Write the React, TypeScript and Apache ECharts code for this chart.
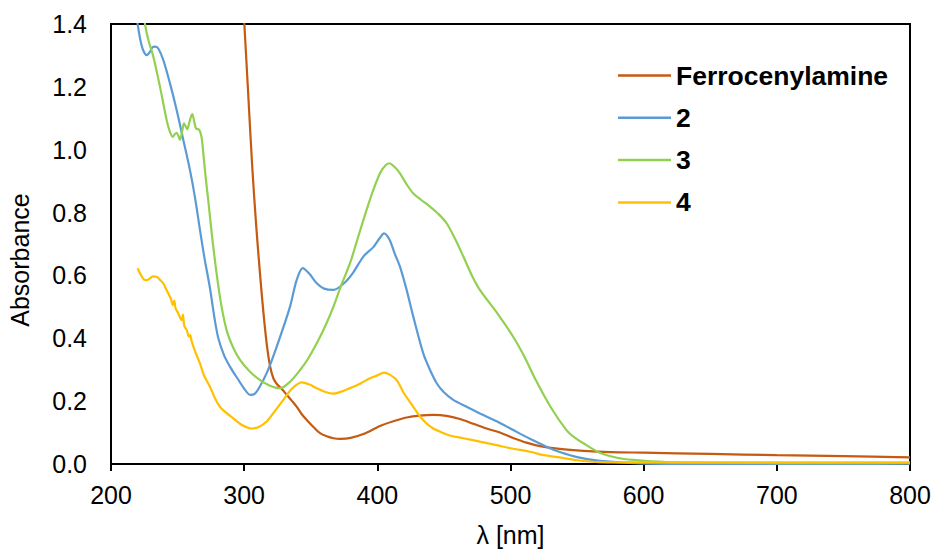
import React, { useEffect, useRef } from "react";
import * as echarts from "echarts";

const seriesNames = ["Ferrocenylamine", "2", "3", "4"];
const seriesColors = ["#C55A11", "#5B9BD5", "#92D050", "#FFC000"];
const xTicks = [200, 300, 400, 500, 600, 700, 800];
const yTicks = [0, 0.2, 0.4, 0.6, 0.8, 1.0, 1.2, 1.4];

const ferrocenylamine: [number, number][] = [
  [297, 1.63], [300, 1.41], [303, 1.18], [306, 0.95], [309, 0.76], [312, 0.6], [314.5, 0.48],
  [317, 0.38], [319.5, 0.31], [322, 0.272], [325, 0.252], [328, 0.24], [332, 0.22], [336, 0.2],
  [339.5, 0.182], [343, 0.16], [347, 0.14], [352, 0.118], [357, 0.098], [362, 0.088], [367, 0.082],
  [372, 0.08], [380, 0.083], [390, 0.096], [402, 0.121], [412, 0.136], [422, 0.148], [432, 0.154],
  [442, 0.156], [452, 0.153], [462, 0.143], [472, 0.128], [482, 0.113], [492, 0.1], [502, 0.083],
  [512, 0.068], [522, 0.057], [537, 0.048], [555, 0.042], [575, 0.038], [600, 0.036], [650, 0.032],
  [700, 0.028], [750, 0.025], [800, 0.021],
];

const compound2: [number, number][] = [
  [219, 1.43], [220, 1.4], [222, 1.35], [224, 1.318], [226.8, 1.301], [229, 1.31], [231, 1.325],
  [233, 1.328], [235.5, 1.322], [239.3, 1.285], [244.3, 1.211], [249.3, 1.126], [254.3, 1.031],
  [259.3, 0.935], [263, 0.85], [266.8, 0.745], [270, 0.66], [274.3, 0.56], [277.5, 0.47],
  [280.6, 0.4], [285, 0.345], [290, 0.305], [295, 0.272], [300, 0.24], [304.4, 0.22],
  [307.5, 0.222], [310.6, 0.238], [316.9, 0.289], [324.4, 0.373], [334.4, 0.5], [339.4, 0.585],
  [344, 0.623], [349, 0.605], [354.5, 0.575], [360, 0.558], [367, 0.554], [375, 0.575], [382, 0.61],
  [389.5, 0.66], [397, 0.69], [402, 0.72], [405, 0.734], [409, 0.715], [413, 0.67], [417, 0.628],
  [422, 0.554], [427, 0.469], [434.5, 0.352], [439.5, 0.3], [444.6, 0.257], [450, 0.228],
  [457, 0.204], [467, 0.182], [477, 0.161], [489.6, 0.136], [502, 0.108], [514.6, 0.08],
  [527, 0.055], [537, 0.038], [550, 0.022], [567, 0.01], [597, 0.002], [650, 0.0], [700, -0.002],
  [800, -0.004],
];

const compound3: [number, number][] = [
  [220, 1.56], [223, 1.47], [225.5, 1.4], [228, 1.35], [231.8, 1.296], [236.8, 1.2], [241.8, 1.094],
  [244, 1.06], [246.3, 1.041], [248, 1.05], [249.3, 1.054], [250.5, 1.045], [251.8, 1.031],
  [253.5, 1.06], [254.8, 1.084], [256, 1.075], [257.3, 1.065], [259, 1.09], [261, 1.113],
  [262.5, 1.09], [263.8, 1.068], [266.3, 1.063], [268, 1.04], [269.3, 0.989], [271.3, 0.904],
  [273, 0.84], [276.8, 0.691], [281.8, 0.532], [286.8, 0.426], [291.8, 0.37], [296.9, 0.331],
  [304, 0.295], [311.9, 0.267], [319, 0.25], [326.9, 0.241], [334, 0.26], [342, 0.299], [348, 0.335],
  [354.5, 0.384], [361, 0.44], [367, 0.5], [373, 0.57], [379.5, 0.639], [384, 0.7], [389.5, 0.776],
  [396, 0.86], [402, 0.925], [406, 0.95], [409, 0.957], [413, 0.945], [417, 0.925], [422, 0.89],
  [427, 0.861], [433, 0.84], [439.5, 0.819], [446, 0.795], [452, 0.766], [458, 0.72], [464.6, 0.66],
  [471, 0.6], [477, 0.554], [490, 0.48], [502, 0.405], [510, 0.345], [519, 0.267], [530, 0.182],
  [542, 0.108], [548, 0.085], [554.7, 0.066], [567, 0.036], [580, 0.02], [592, 0.013], [617, 0.006],
  [650, 0.004], [700, 0.003], [750, 0.003], [800, 0.003],
];

const compound4: [number, number][] = [
  [220, 0.623], [222, 0.605], [224.5, 0.588], [226.8, 0.585], [229, 0.59], [231.5, 0.597],
  [234.3, 0.596], [237, 0.585], [239.3, 0.575], [241, 0.56], [243, 0.543], [245, 0.525],
  [246.5, 0.505], [247.5, 0.52], [248.5, 0.495], [250.5, 0.48], [253, 0.458], [254, 0.475],
  [255, 0.44], [257, 0.425], [258.5, 0.405], [259.5, 0.41], [260.6, 0.39], [263, 0.36],
  [266.8, 0.32], [270, 0.28], [274.3, 0.246], [278, 0.21], [281.8, 0.182], [286, 0.165],
  [291.8, 0.145], [298, 0.125], [305.6, 0.113], [311, 0.118], [316.9, 0.135], [323, 0.168],
  [329.4, 0.204], [336, 0.24], [343.2, 0.26], [349, 0.253], [354.5, 0.241], [361, 0.229],
  [367, 0.224], [374, 0.232], [382, 0.246], [388, 0.258], [394.5, 0.273], [400, 0.282], [405, 0.291],
  [409, 0.285], [414.5, 0.267], [420, 0.225], [427, 0.182], [432, 0.152], [437, 0.129], [442, 0.113],
  [447, 0.103], [455, 0.09], [464.6, 0.082], [477, 0.071], [489.6, 0.06], [500, 0.05], [514.6, 0.039],
  [525, 0.028], [537, 0.021], [550, 0.012], [567, 0.006], [600, 0.005], [700, 0.005], [800, 0.005],
];

const seriesData = [ferrocenylamine, compound2, compound3, compound4];

const FONT = "'Liberation Sans', Arial, sans-serif";

export default function App() {
  const ref = useRef<HTMLDivElement>(null);
  useEffect(() => {
    document.body.style.margin = "0";
    if (!ref.current) return;
    const chart = echarts.init(ref.current, undefined, { renderer: "svg" });
    chart.setOption({
      animation: false,
      backgroundColor: "#fff",
      textStyle: { fontFamily: FONT },
      grid: {
        left: 111,
        right: 26,
        top: 24,
        bottom: 85,
        show: true,
        borderColor: "#000",
        borderWidth: 2,
        backgroundColor: "transparent",
      },
      legend: {
        data: seriesNames,
        orient: "vertical",
        left: 618,
        top: 62,
        padding: 0,
        icon: "rect",
        itemWidth: 53,
        itemHeight: 2.5,
        itemGap: 15.3,
        textStyle: {
          fontFamily: FONT,
          fontSize: 26.5,
          fontWeight: "bold",
          color: "#000",
          lineHeight: 26,
        },
      },
      xAxis: {
        type: "value",
        min: xTicks[0],
        max: xTicks[xTicks.length - 1],
        interval: 100,
        axisLine: { show: true, onZero: false, lineStyle: { color: "#000", width: 2 } },
        axisTick: { show: true, length: 7, inside: false, lineStyle: { color: "#000", width: 2 } },
        axisLabel: { color: "#000", fontSize: 25, fontFamily: FONT, margin: 18 },
        splitLine: { show: false },
      },
      yAxis: {
        type: "value",
        min: yTicks[0],
        max: yTicks[yTicks.length - 1],
        interval: 0.2,
        axisLine: { show: true, lineStyle: { color: "#000", width: 2 } },
        axisTick: { show: false },
        axisLabel: {
          color: "#000",
          fontSize: 25,
          fontFamily: FONT,
          margin: 24,
          formatter: (v: number) => v.toFixed(1),
        },
        splitLine: { show: false },
      },
      graphic: [
        {
          type: "text",
          x: 20,
          y: 260,
          rotation: Math.PI / 2,
          style: {
            text: "Absorbance",
            fontSize: 25,
            fontFamily: FONT,
            fill: "#000",
            align: "center",
            verticalAlign: "middle",
          },
        },
        {
          type: "text",
          x: 510.5,
          y: 535,
          style: {
            text: "λ [nm]",
            fontSize: 25,
            fontFamily: FONT,
            fill: "#000",
            align: "center",
            verticalAlign: "middle",
          },
        },
      ],
      series: seriesNames.map((name, i) => ({
        name,
        type: "line",
        data: seriesData[i],
        showSymbol: false,
        symbol: "none",
        smooth: 0.3,
        clip: true,
        color: seriesColors[i],
        lineStyle: { color: seriesColors[i], width: 2.2 },
      })),
    });
    return () => chart.dispose();
  }, []);
  return <div ref={ref} style={{ width: 936, height: 549 }} />;
}
